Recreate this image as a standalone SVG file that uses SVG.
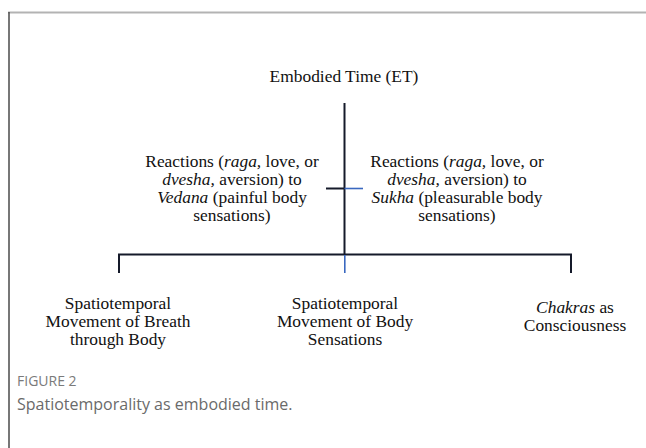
<svg xmlns="http://www.w3.org/2000/svg" width="646" height="448" viewBox="0 0 646 448">
<style>
.t{font-family:"Liberation Serif","Times New Roman",serif;font-size:17.4px;fill:#111;text-anchor:middle}
.i{font-style:italic}
.k{stroke:#151a2a;stroke-width:2;fill:none}
.b{stroke:#3a68c0;stroke-width:1.6;fill:none}
.cap1{font-family:"Open Sans","Noto Sans",sans-serif;font-size:14px;fill:#7a7a7a}
.cap2{font-family:"Open Sans","Noto Sans",sans-serif;font-size:16px;fill:#6a6a6a}
</style>
<rect width="646" height="448" fill="#fff"/>
<line x1="8" y1="12.5" x2="646" y2="12.5" stroke="#b3b3b3" stroke-width="2"/>
<line x1="9" y1="12" x2="9" y2="448" stroke="#4a4a4a" stroke-width="1.5"/>
<g id="connectors">
<line class="k" x1="344.5" y1="103" x2="344.5" y2="254"/>
<line class="k" x1="326" y1="188.5" x2="344.5" y2="188.5"/>
<line class="b" x1="344.5" y1="188.5" x2="363" y2="188.5"/>
<polyline class="k" points="119,273 119,254.5 571,254.5 571,273"/>
<line class="b" x1="344.8" y1="255" x2="344.8" y2="273"/>
</g>
<g id="root"><text class="t" x="344" y="82">Embodied Time (ET)</text></g>
<g id="left-reaction">
<text class="t" x="232" y="166.5">Reactions (<tspan class="i">raga,</tspan> love, or</text>
<text class="t" x="232" y="184.5"><tspan class="i">dvesha,</tspan> aversion) to</text>
<text class="t" x="232" y="202.5"><tspan class="i">Vedana</tspan> (painful body</text>
<text class="t" x="232" y="220.5">sensations)</text>
</g>
<g id="right-reaction">
<text class="t" x="457" y="166.5">Reactions (<tspan class="i">raga,</tspan> love, or</text>
<text class="t" x="457" y="184.5"><tspan class="i">dvesha,</tspan> aversion) to</text>
<text class="t" x="457" y="202.5"><tspan class="i">Sukha</tspan> (pleasurable body</text>
<text class="t" x="457" y="220.5">sensations)</text>
</g>
<g id="breath">
<text class="t" x="118" y="308.5">Spatiotemporal</text>
<text class="t" x="118" y="326.5">Movement of Breath</text>
<text class="t" x="118" y="344.5">through Body</text>
</g>
<g id="sensations">
<text class="t" x="345" y="308.5">Spatiotemporal</text>
<text class="t" x="345" y="326.5">Movement of Body</text>
<text class="t" x="345" y="344.5">Sensations</text>
</g>
<g id="chakras">
<text class="t" x="575" y="313"><tspan class="i">Chakras</tspan> as</text>
<text class="t" x="575" y="331">Consciousness</text>
</g>
<g id="caption">
<text class="cap1" x="17" y="386">FIGURE 2</text>
<text class="cap2" x="17" y="410">Spatiotemporality as embodied time.</text>
</g>
</svg>
